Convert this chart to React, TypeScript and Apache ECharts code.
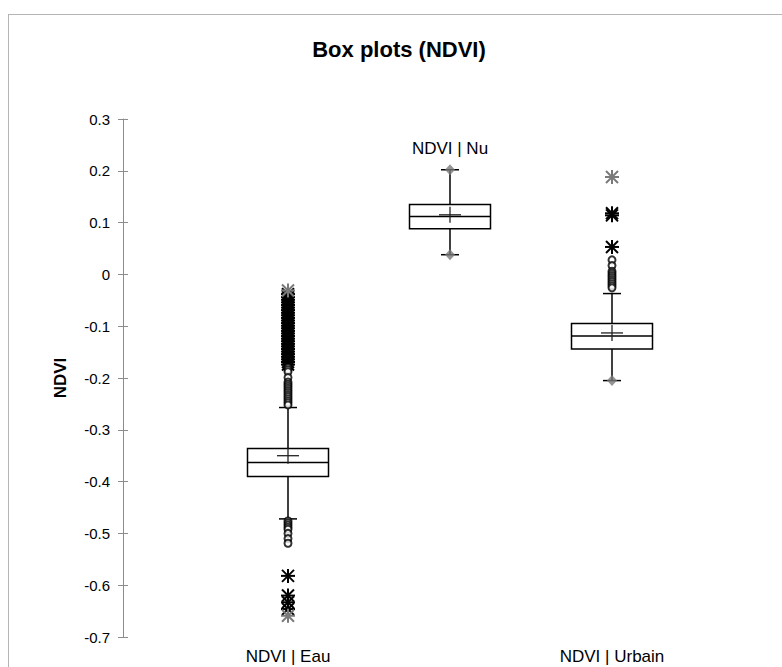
import React, { useEffect, useRef } from "react";
import * as echarts from "echarts";

// ---------- data ----------
const categories = ["NDVI | Eau", "NDVI | Nu", "NDVI | Urbain"];
const yTicks = { min: -0.7, max: 0.3, step: 0.1 };

const whiskerLow = [-0.472, 0.038, -0.205];
const q1 = [-0.390, 0.088, -0.144];
const median = [-0.363, 0.112, -0.119];
const q3 = [-0.336, 0.135, -0.095];
const whiskerHigh = [-0.257, 0.202, -0.037];
const mean = [-0.350, 0.115, -0.113];
const minimum = [-0.659, 0.038, -0.205];
const maximum = [-0.031, 0.202, 0.188];

// outliers (circles = moderate, stars = extreme)
const eauCircles = [
  -0.180, -0.184, -0.188, -0.199, -0.208, -0.212, -0.216, -0.220, -0.224,
  -0.228, -0.232, -0.236, -0.240, -0.244, -0.248, -0.252,
  -0.476, -0.480, -0.484, -0.488, -0.492, -0.500, -0.510, -0.519,
];
const eauStars = [
  -0.038, -0.044, -0.049, -0.054, -0.059, -0.064, -0.069, -0.074, -0.079,
  -0.084, -0.089, -0.094, -0.099, -0.104, -0.109, -0.114, -0.119, -0.124,
  -0.129, -0.134, -0.139, -0.144, -0.149, -0.154, -0.159, -0.164, -0.169,
  -0.174, -0.582, -0.620, -0.633, -0.646,
];
const urbainCircles = [
  0.028, 0.017, 0.006, 0.002, -0.002, -0.006, -0.010, -0.014, -0.018,
  -0.022, -0.026,
];
const urbainStars = [0.118, 0.114, 0.053];

const FONT = "'Liberation Sans', Arial, Helvetica, sans-serif";

export default function App() {
  const ref = useRef<HTMLDivElement>(null);

  useEffect(() => {
    if (!ref.current) return;
    const chart = echarts.init(ref.current, null, { renderer: "svg" });

    const boxData = categories.map((_, i) => [
      i,
      whiskerLow[i],
      q1[i],
      median[i],
      q3[i],
      whiskerHigh[i],
      mean[i],
    ]);

    const circleData = [
      ...eauCircles.map((v) => [0, v]),
      ...urbainCircles.map((v) => [2, v]),
    ];
    const starData = [
      ...eauStars.map((v) => [0, v]),
      ...urbainStars.map((v) => [2, v]),
    ];

    // min / max markers: diamond when equal to whisker end, else grey star
    const diamondData: number[][] = [];
    const greyStarData: number[][] = [];
    categories.forEach((_, i) => {
      if (minimum[i] === whiskerLow[i]) diamondData.push([i, minimum[i]]);
      else greyStarData.push([i, minimum[i]]);
      if (maximum[i] === whiskerHigh[i]) diamondData.push([i, maximum[i]]);
      else greyStarData.push([i, maximum[i]]);
    });

    const starRender = (color: string) => (params: any, api: any) => {
      const p = api.coord([api.value(0), api.value(1)]);
      const x = p[0];
      const y = p[1];
      const st = { stroke: color, lineWidth: 2 };
      return {
        type: "group",
        children: [
          { type: "line", shape: { x1: x, y1: y - 7, x2: x, y2: y + 7 }, style: st },
          { type: "line", shape: { x1: x - 7, y1: y, x2: x + 7, y2: y }, style: st },
          { type: "line", shape: { x1: x - 6, y1: y - 6, x2: x + 6, y2: y + 6 }, style: st },
          { type: "line", shape: { x1: x - 6, y1: y + 6, x2: x + 6, y2: y - 6 }, style: st },
        ],
      };
    };

    const labelStyle = { color: "#000", fontFamily: FONT, fontSize: 17 };

    const option: any = {
      animation: false,
      backgroundColor: "#fff",
      grid: { left: 207, right: 89, top: 119, bottom: 30 },
      graphic: [
        {
          type: "line",
          shape: { x1: 8.5, y1: 14, x2: 8.5, y2: 667 },
          style: { stroke: "#b4b4b4", lineWidth: 1 },
          silent: true,
        },
        {
          type: "line",
          shape: { x1: 8, y1: 14.5, x2: 782, y2: 14.5 },
          style: { stroke: "#b4b4b4", lineWidth: 1 },
          silent: true,
        },
        {
          type: "text",
          x: 399,
          y: 49,
          silent: true,
          style: {
            text: "Box plots (NDVI)",
            align: "center",
            verticalAlign: "middle",
            fill: "#000",
            font: `bold 22px ${FONT}`,
          },
        },
      ],
      xAxis: [
        {
          type: "category",
          data: categories,
          position: "bottom",
          boundaryGap: true,
          axisLine: { show: false },
          axisTick: { show: false },
          splitLine: { show: false },
          axisLabel: {
            ...labelStyle,
            interval: 0,
            margin: 11,
            formatter: (v: string, idx: number) => (idx === 1 ? "" : v),
          },
        },
        {
          type: "category",
          data: categories,
          position: "top",
          boundaryGap: true,
          axisLine: { show: false },
          axisTick: { show: false },
          splitLine: { show: false },
          axisLabel: {
            ...labelStyle,
            interval: 0,
            inside: true,
            margin: 21,
            formatter: (v: string, idx: number) => (idx === 1 ? v : ""),
          },
        },
      ],
      yAxis: [
        {
          type: "value",
          position: "left",
          offset: 84,
          min: yTicks.min,
          max: yTicks.max,
          interval: yTicks.step,
          name: "NDVI",
          nameLocation: "middle",
          nameGap: 54,
          nameTextStyle: {
            color: "#000",
            fontFamily: FONT,
            fontSize: 17,
            fontWeight: "bold",
          },
          axisLine: { show: true, lineStyle: { color: "#8c8c8c", width: 1 } },
          axisTick: { show: true, length: 5, lineStyle: { color: "#8c8c8c" } },
          splitLine: { show: false },
          axisLabel: {
            color: "#000",
            fontFamily: FONT,
            fontSize: 15,
            margin: 13,
            formatter: (v: number) => String(Number(v.toFixed(1))),
          },
        },
        {
          type: "value",
          position: "left",
          offset: 84,
          min: yTicks.min,
          max: yTicks.max,
          interval: yTicks.step,
          axisLine: { show: false },
          axisTick: {
            show: true,
            inside: true,
            length: 5,
            lineStyle: { color: "#8c8c8c" },
          },
          axisLabel: { show: false },
          splitLine: { show: false },
        },
      ],
      series: [
        {
          type: "custom",
          name: "box",
          xAxisIndex: 0,
          yAxisIndex: 0,
          silent: true,
          encode: { x: 0, y: [1, 2, 3, 4, 5] },
          data: boxData,
          renderItem: (params: any, api: any) => {
            const i = api.value(0);
            const x = api.coord([i, 0])[0];
            const yy = (v: number) => api.coord([i, v])[1];
            const half = api.size([1, 0])[0] * 0.25;
            const lo = yy(api.value(1));
            const b1 = yy(api.value(2));
            const md = yy(api.value(3));
            const b3 = yy(api.value(4));
            const hi = yy(api.value(5));
            const mn = yy(api.value(6));
            const ls = { stroke: "#000", lineWidth: 1.5 };
            return {
              type: "group",
              children: [
                { type: "line", shape: { x1: x, y1: hi, x2: x, y2: lo }, style: ls },
                { type: "line", shape: { x1: x - 9, y1: hi, x2: x + 9, y2: hi }, style: ls },
                { type: "line", shape: { x1: x - 9, y1: lo, x2: x + 9, y2: lo }, style: ls },
                {
                  type: "rect",
                  shape: { x: x - half, y: b3, width: 2 * half, height: b1 - b3 },
                  style: { fill: "#fff", stroke: "#000", lineWidth: 1.5 },
                },
                { type: "line", shape: { x1: x - half, y1: md, x2: x + half, y2: md }, style: ls },
                {
                  type: "line",
                  shape: { x1: x - 11, y1: mn, x2: x + 11, y2: mn },
                  style: { stroke: "#222", lineWidth: 1.3 },
                },
                {
                  type: "line",
                  shape: { x1: x, y1: mn - 8, x2: x, y2: mn + 8 },
                  style: { stroke: "#222", lineWidth: 1.3 },
                },
              ],
            };
          },
          z: 2,
        },
        {
          type: "scatter",
          name: "outliers",
          xAxisIndex: 0,
          yAxisIndex: 0,
          silent: true,
          symbol: "emptyCircle",
          symbolSize: 7,
          itemStyle: { color: "#000" },
          data: circleData,
          z: 3,
        },
        {
          type: "custom",
          name: "extreme",
          xAxisIndex: 0,
          yAxisIndex: 0,
          silent: true,
          data: starData,
          renderItem: starRender("#000"),
          z: 3,
        },
        {
          type: "custom",
          name: "minmax-star",
          xAxisIndex: 0,
          yAxisIndex: 0,
          silent: true,
          data: greyStarData,
          renderItem: starRender("#7a7a7a"),
          z: 4,
        },
        {
          type: "scatter",
          name: "minmax",
          xAxisIndex: 0,
          yAxisIndex: 0,
          silent: true,
          symbol: "diamond",
          symbolSize: [10, 11],
          itemStyle: { color: "#7a7a7a" },
          data: diamondData,
          z: 4,
        },
      ],
    };

    chart.setOption(option);
    return () => chart.dispose();
  }, []);

  return (
    <div
      ref={ref}
      style={{ position: "absolute", left: 0, top: 0, width: 782, height: 667 }}
    />
  );
}
